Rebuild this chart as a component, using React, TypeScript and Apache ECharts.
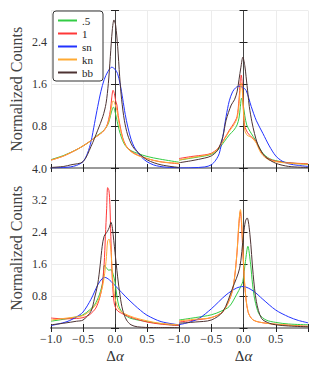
import React, { useEffect, useRef } from 'react';
import * as echarts from 'echarts';

// ---------- data ----------
const seriesNames = ['.5', '1', 'sn', 'kn', 'bb'];

const xTickLabels = [-1.0, -0.5, 0.0, 0.5];
const yTickLabelsTop = [0.8, 1.6, 2.4];
const yTickLabelsBottom = [0.8, 1.6, 2.4, 3.2, 4.0];

// top-left panel
const tlP5 = [[-1,0.16],[-0.8,0.24],[-0.6,0.35],[-0.5,0.42],[-0.4,0.5],[-0.3,0.6],[-0.2,0.69],[-0.14,0.77],[-0.1,0.86],[-0.07,1.0],[-0.04,1.13],[-0.025,1.16],[-0.005,1.1],[0.02,0.97],[0.05,0.8],[0.08,0.66],[0.12,0.52],[0.17,0.41],[0.25,0.33],[0.35,0.28],[0.5,0.22],[0.7,0.17],[1,0.11]];
const tl1 = [[-1,0.15],[-0.8,0.23],[-0.6,0.35],[-0.5,0.42],[-0.4,0.5],[-0.3,0.59],[-0.2,0.68],[-0.14,0.77],[-0.1,0.92],[-0.07,1.12],[-0.05,1.35],[-0.03,1.48],[-0.01,1.42],[0.01,1.28],[0.03,1.2],[0.05,1.0],[0.08,0.8],[0.12,0.58],[0.17,0.43],[0.25,0.32],[0.35,0.25],[0.5,0.18],[0.7,0.12],[1,0.08]];
const tlSn = [[-1,0.0],[-0.8,0.01],[-0.7,0.02],[-0.6,0.05],[-0.5,0.12],[-0.43,0.28],[-0.375,0.5],[-0.32,0.85],[-0.27,1.17],[-0.22,1.46],[-0.17,1.68],[-0.11,1.84],[-0.05,1.92],[0,1.88],[0.04,1.8],[0.08,1.6],[0.12,1.32],[0.16,1.02],[0.2,0.78],[0.25,0.55],[0.3,0.4],[0.36,0.29],[0.42,0.2],[0.5,0.12],[0.6,0.06],[0.7,0.03],[0.8,0.015],[1,0.005]];
const tlKn = [[-1,0.15],[-0.8,0.23],[-0.6,0.35],[-0.5,0.42],[-0.4,0.5],[-0.3,0.59],[-0.2,0.68],[-0.14,0.77],[-0.1,0.88],[-0.07,1.05],[-0.05,1.2],[-0.03,1.28],[-0.01,1.25],[0.01,1.18],[0.03,1.1],[0.05,0.95],[0.08,0.76],[0.12,0.56],[0.17,0.42],[0.25,0.31],[0.35,0.24],[0.5,0.18],[0.7,0.12],[1,0.09]];
const tlBb = [[-1,0.01],[-0.8,0.03],[-0.69,0.06],[-0.5,0.12],[-0.375,0.41],[-0.27,0.72],[-0.19,0.98],[-0.14,1.23],[-0.104,1.61],[-0.073,2.12],[-0.042,2.63],[-0.016,2.82],[0.01,2.72],[0.042,2.31],[0.073,1.74],[0.104,1.3],[0.146,0.91],[0.198,0.63],[0.276,0.41],[0.365,0.29],[0.51,0.15],[0.72,0.06],[1,0.01]];

// top-right panel
const trP5 = [[-1,0.15],[-0.8,0.19],[-0.6,0.23],[-0.5,0.26],[-0.4,0.34],[-0.3,0.5],[-0.22,0.63],[-0.15,0.72],[-0.1,0.82],[-0.07,0.95],[-0.05,1.15],[-0.03,1.33],[-0.01,1.25],[0.02,1.0],[0.05,0.82],[0.1,0.7],[0.15,0.6],[0.2,0.5],[0.25,0.38],[0.3,0.28],[0.4,0.18],[0.5,0.14],[0.7,0.1],[1,0.07]];
const tr1 = [[-1,0.18],[-0.8,0.22],[-0.6,0.25],[-0.5,0.28],[-0.4,0.37],[-0.3,0.55],[-0.22,0.72],[-0.15,0.85],[-0.1,0.98],[-0.07,1.3],[-0.05,1.65],[-0.035,1.77],[-0.02,1.6],[0,1.1],[0.02,0.8],[0.06,0.68],[0.1,0.62],[0.15,0.56],[0.2,0.5],[0.25,0.36],[0.3,0.26],[0.4,0.17],[0.5,0.13],[0.7,0.1],[1,0.08]];
const trSn = [[-1,0],[-0.8,0.005],[-0.6,0.02],[-0.5,0.06],[-0.43,0.15],[-0.375,0.28],[-0.32,0.6],[-0.27,0.98],[-0.22,1.28],[-0.17,1.45],[-0.12,1.53],[-0.07,1.56],[-0.02,1.54],[0.04,1.48],[0.12,1.17],[0.2,0.9],[0.3,0.66],[0.4,0.42],[0.5,0.23],[0.6,0.13],[0.7,0.08],[0.85,0.05],[1,0.03]];
const trKn = [[-1,0.15],[-0.8,0.2],[-0.6,0.24],[-0.5,0.27],[-0.4,0.36],[-0.3,0.54],[-0.22,0.7],[-0.15,0.82],[-0.1,0.95],[-0.07,1.2],[-0.05,1.5],[-0.035,1.62],[-0.02,1.5],[0,1.05],[0.02,0.72],[0.06,0.62],[0.1,0.6],[0.15,0.55],[0.2,0.47],[0.25,0.33],[0.3,0.24],[0.4,0.15],[0.5,0.12],[0.7,0.09],[1,0.07]];
const trBb = [[-1,0.1],[-0.8,0.14],[-0.6,0.19],[-0.5,0.23],[-0.4,0.34],[-0.32,0.6],[-0.27,0.91],[-0.19,1.2],[-0.14,1.3],[-0.1,1.45],[-0.07,1.68],[-0.04,1.92],[-0.01,2.11],[0.02,1.95],[0.04,1.74],[0.07,1.4],[0.09,1.17],[0.13,0.88],[0.17,0.66],[0.22,0.45],[0.28,0.31],[0.35,0.2],[0.5,0.09],[0.7,0.03],[1,0.01]];

// bottom-left panel
const blP5 = [[-1,0.17],[-0.8,0.22],[-0.6,0.28],[-0.5,0.33],[-0.4,0.45],[-0.32,0.58],[-0.245,0.83],[-0.19,1.17],[-0.167,1.57],[-0.13,1.5],[-0.1,1.45],[-0.06,1.46],[-0.03,1.35],[0,1.15],[0.03,0.8],[0.06,0.55],[0.1,0.42],[0.15,0.33],[0.25,0.24],[0.5,0.16],[0.7,0.11],[1,0.06]];
const bl1 = [[-1,0.25],[-0.8,0.23],[-0.6,0.24],[-0.5,0.26],[-0.4,0.33],[-0.3,0.5],[-0.24,0.75],[-0.2,1.05],[-0.17,1.6],[-0.15,2.3],[-0.13,3.0],[-0.115,3.52],[-0.095,3.45],[-0.08,3.1],[-0.065,2.3],[-0.05,1.5],[-0.03,0.9],[-0.01,0.6],[0.03,0.45],[0.1,0.37],[0.2,0.3],[0.3,0.24],[0.5,0.15],[0.7,0.1],[1,0.06]];
const blSn = [[-1,0.06],[-0.75,0.16],[-0.6,0.28],[-0.5,0.4],[-0.375,0.72],[-0.27,1.08],[-0.2,1.24],[-0.16,1.27],[-0.09,1.21],[0.04,1.0],[0.17,0.78],[0.3,0.58],[0.4,0.44],[0.5,0.32],[0.72,0.16],[1,0.08]];
const blKn = [[-1,0.2],[-0.8,0.24],[-0.6,0.28],[-0.5,0.31],[-0.375,0.45],[-0.27,0.66],[-0.19,1.08],[-0.14,1.67],[-0.115,2.18],[-0.094,2.23],[-0.0625,1.92],[-0.036,1.25],[0,0.75],[0.068,0.45],[0.25,0.29],[0.5,0.18],[0.7,0.12],[1,0.08]];
const blBb = [[-1,0.08],[-0.8,0.12],[-0.6,0.17],[-0.5,0.2],[-0.375,0.42],[-0.32,0.75],[-0.27,1.1],[-0.23,1.6],[-0.2,2.05],[-0.17,2.3],[-0.12,2.42],[-0.09,2.52],[-0.0625,2.65],[-0.04,2.5],[-0.02,2.2],[0,1.9],[0.04,1.3],[0.08,0.8],[0.12,0.45],[0.18,0.2],[0.25,0.08],[0.35,0.03],[0.6,0.01],[1,0.01]];

// bottom-right panel
const brP5 = [[-1,0.2],[-0.75,0.26],[-0.5,0.33],[-0.35,0.42],[-0.22,0.54],[-0.11,0.83],[-0.04,1.05],[-0.01,1.17],[0.03,1.67],[0.068,2.05],[0.11,1.6],[0.14,1.1],[0.17,0.75],[0.21,0.48],[0.25,0.33],[0.35,0.2],[0.5,0.14],[0.7,0.1],[1,0.08]];
const br1 = [[-1,0.15],[-0.75,0.2],[-0.5,0.26],[-0.32,0.41],[-0.19,0.83],[-0.14,1.25],[-0.1,1.9],[-0.07,2.62],[-0.05,2.92],[-0.03,2.6],[-0.01,1.9],[0.02,1.05],[0.07,0.41],[0.15,0.2],[0.35,0.12],[0.7,0.07],[1,0.04]];
const brSn = [[-1,0.08],[-0.85,0.14],[-0.69,0.24],[-0.5,0.48],[-0.27,0.83],[-0.11,1.0],[-0.005,1.04],[0.15,0.93],[0.3,0.72],[0.5,0.45],[0.7,0.28],[0.85,0.19],[1,0.13]];
const brKn = [[-1,0.18],[-0.75,0.22],[-0.5,0.26],[-0.32,0.41],[-0.19,0.83],[-0.14,1.25],[-0.1,1.92],[-0.07,2.68],[-0.047,2.97],[-0.03,2.7],[-0.01,2.0],[0.02,1.08],[0.07,0.41],[0.15,0.2],[0.35,0.12],[0.7,0.07],[1,0.04]];
const brBb = [[-1,0.12],[-0.75,0.15],[-0.5,0.2],[-0.32,0.41],[-0.17,1.0],[-0.06,1.5],[0,2.34],[0.03,2.68],[0.057,2.76],[0.1,2.34],[0.15,1.34],[0.2,0.66],[0.28,0.24],[0.4,0.12],[0.5,0.08],[0.7,0.05],[1,0.03]];

const panelData = [
  [tlP5, tl1, tlSn, tlKn, tlBb],
  [trP5, tr1, trSn, trKn, trBb],
  [blP5, bl1, blSn, blKn, blBb],
  [brP5, br1, brSn, brKn, brBb],
];

// ---------- styles ----------
const colors = ['#33cc44', '#ff3838', '#2233ff', '#ffaa33', '#4d3333'];
const FONT = 'serif';

const grids = [
  { left: 51, top: 10.5, width: 128, height: 157.5 },
  { left: 179, top: 10.5, width: 129, height: 157.5 },
  { left: 51, top: 168.5, width: 128, height: 159.5 },
  { left: 179, top: 168.5, width: 129, height: 159.5 },
];

const fmt = (v: number) => (v < -1e-9 ? '\u2212' + Math.abs(v).toFixed(1) : Math.abs(v).toFixed(1));
const inList = (list: number[], v: number) => list.some((l) => Math.abs(l - v) < 1e-6);
const tickText = { fontSize: 12, fontFamily: FONT, color: '#333' };

export default function App() {
  const ref = useRef<HTMLDivElement>(null);
  useEffect(() => {
    if (!ref.current) return;
    const chart = echarts.init(ref.current, undefined, { renderer: 'svg' });

    const tick = { show: true, inside: true, length: 4, lineStyle: { color: '#222', width: 1 } };
    const xAxes: any[] = [];
    const yAxes: any[] = [];
    for (let i = 0; i < 4; i++) {
      const isBottom = i >= 2;
      const isLeft = i % 2 === 0;
      const yMax = isBottom ? 4.0 : 3.0;
      const yLabels = isBottom ? yTickLabelsBottom : yTickLabelsTop;
      xAxes.push({
        type: 'value', gridIndex: i, min: -1, max: 1, interval: 0.5, position: 'bottom',
        axisLine: { show: true, lineStyle: { color: '#9a9a9a', width: 2 } },
        axisTick: tick,
        splitLine: { show: true, lineStyle: { color: '#ececec', width: 1 } },
        axisLabel: {
          show: isBottom, margin: 5, ...tickText,
          formatter: (v: number) => (inList(xTickLabels, v) ? fmt(v) : ''),
        },
        name: isBottom ? '\u0394{i|\u03b1}' : '',
        nameLocation: 'middle', nameGap: 20,
        nameTextStyle: {
          fontSize: 15, fontFamily: FONT, color: '#333',
          rich: { i: { fontSize: 15, fontFamily: FONT, fontStyle: 'italic', color: '#333' } },
        },
      });
      xAxes.push({
        type: 'value', gridIndex: i, min: -1, max: 1, interval: 0.5, position: 'top',
        axisLine: { show: true, lineStyle: { color: '#9a9a9a', width: 2 } },
        axisTick: tick, splitLine: { show: false }, axisLabel: { show: false },
      });
      yAxes.push({
        type: 'value', gridIndex: i, min: 0, max: yMax, interval: 0.8, position: 'left',
        axisLine: { show: true, lineStyle: { color: '#444', width: 1 } },
        axisTick: tick,
        splitLine: { show: true, lineStyle: { color: '#ececec', width: 1 } },
        axisLabel: {
          show: isLeft, margin: 4, ...tickText,
          formatter: (v: number) => (inList(yLabels, v) ? fmt(v) : ''),
        },
        name: isLeft ? 'Normalized Counts' : '',
        nameLocation: 'middle', nameGap: 27,
        nameTextStyle: { fontSize: 16, fontFamily: FONT, color: '#444' },
      });
      yAxes.push({
        type: 'value', gridIndex: i, min: 0, max: yMax, interval: 0.8, position: 'right',
        axisLine: { show: true, lineStyle: { color: '#444', width: 1 } },
        axisTick: tick, splitLine: { show: false }, axisLabel: { show: false },
      });
    }

    const series: any[] = [];
    panelData.forEach((panel, i) => {
      panel.forEach((data, s) => {
        series.push({
          type: 'line', name: seriesNames[s], xAxisIndex: i * 2, yAxisIndex: i * 2,
          data, symbol: 'none', smooth: 0.3, clip: true,
          lineStyle: { color: colors[s], width: 1 }, itemStyle: { color: colors[s] },
        });
      });
    });

    chart.setOption({
      animation: false,
      backgroundColor: '#fff',
      textStyle: { fontFamily: FONT },
      grid: grids.map((g) => ({ ...g, containLabel: false })),
      xAxis: xAxes,
      yAxis: yAxes,
      legend: {
        data: seriesNames, orient: 'vertical', left: 53, top: 11,
        itemWidth: 19, itemHeight: 10, itemGap: 2, padding: [4, 10, 3, 4],
        backgroundColor: '#fff', borderColor: '#333', borderWidth: 1, borderRadius: 3,
        itemStyle: { opacity: 0 },
        textStyle: { fontSize: 11, fontFamily: FONT, color: '#222' },
        selectedMode: false,
      },
      series,
    });
    return () => chart.dispose();
  }, []);
  return <div ref={ref} style={{ position: 'fixed', left: 0, top: 0, width: 318, height: 374 }} />;
}
